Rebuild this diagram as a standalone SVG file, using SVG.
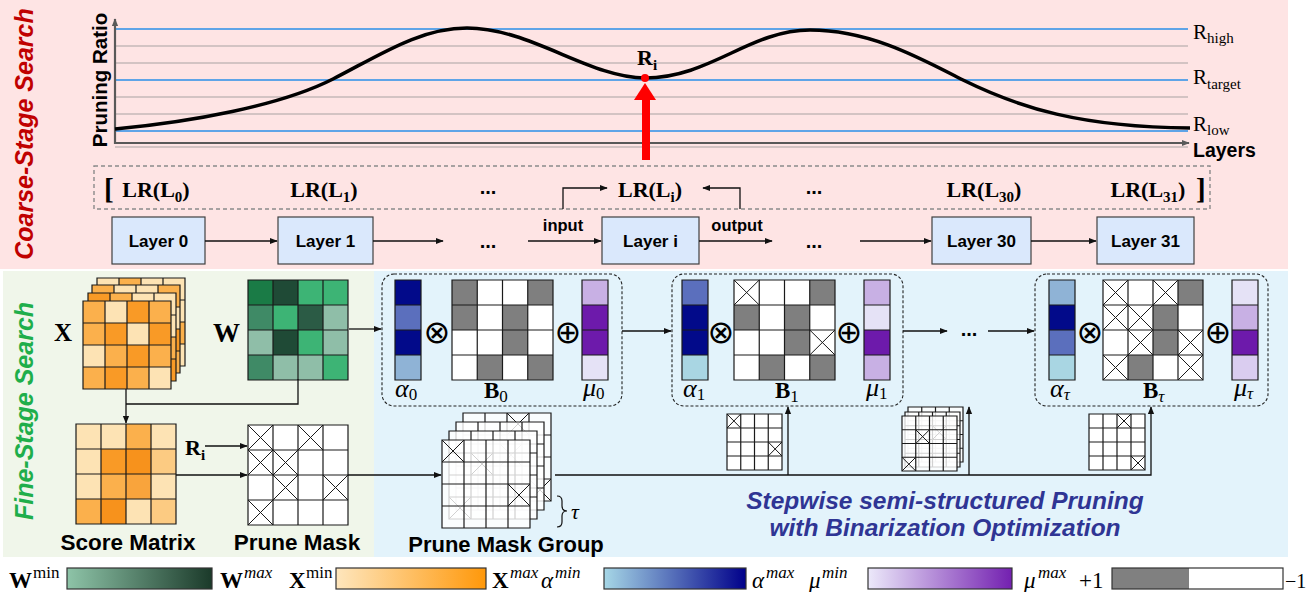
<svg xmlns="http://www.w3.org/2000/svg" width="1307" height="592" viewBox="0 0 1307 592">
<defs>
<style>
.sans{font-family:"Liberation Sans",Arial,sans-serif;font-weight:bold}
.ser{font-family:"Liberation Serif","Times New Roman",serif}
.sym{font-family:"DejaVu Sans",sans-serif}
.b{font-weight:bold}
.i{font-style:italic}
.gl{fill:none;stroke:#1a1a1a;stroke-width:1.2;vector-effect:non-scaling-stroke}
.xl{fill:none;stroke:#1a1a1a;stroke-width:1;vector-effect:non-scaling-stroke}
.con{fill:none;stroke:#111;stroke-width:1.3}
.lay{fill:#dae8fc;stroke:#404040;stroke-width:1.2}
.blue{stroke:#2b8fe8;stroke-width:1.6;fill:none}
.grey{stroke:#c5b8b8;stroke-width:1.5;fill:none}
.dbox{fill:none;stroke:#222;stroke-width:1.1;stroke-dasharray:3 2}
.o1{fill:#fde3b4}.o2{fill:#fccb82}.o3{fill:#fbb04c}.o3b{fill:#f9a43c}.o4{fill:#f99a26}.o5{fill:#f7921c}
.g1{fill:#1a7b46}.g2{fill:#1f4a36}.g3{fill:#3db475}.g4{fill:#3f8a66}.g5{fill:#8fbea8}.g6{fill:#2b5b45}
.gr{fill:#7f7f7f}.wh{fill:#fff}.wt{fill:#fff;fill-opacity:0.8}
.nv{fill:#020a8a}.am{fill:#5b6fbd}.al{fill:#8fb3d6}.ac{fill:#a9d6e3}
.ml{fill:#c8b0e4}.md{fill:#6d1aab}.mp{fill:#e5e2f6}.mq{fill:#dacdf0}
.lbl{font-size:17px}
.sup{font-size:17px}
</style>
<marker id="ah" viewBox="0 0 10 10" refX="9" refY="5" markerWidth="8" markerHeight="8" markerUnits="userSpaceOnUse" orient="auto"><path d="M0,1L10,5L0,9z" fill="#111"/></marker>
<marker id="ag" viewBox="0 0 10 10" refX="9" refY="5" markerWidth="8" markerHeight="8" markerUnits="userSpaceOnUse" orient="auto"><path d="M0,1L10,5L0,9z" fill="#595959"/></marker>
<linearGradient id="gW"><stop offset="0" stop-color="#8ec4a8"/><stop offset="1" stop-color="#1b3a2a"/></linearGradient>
<linearGradient id="gX"><stop offset="0" stop-color="#fee6bd"/><stop offset="1" stop-color="#ff980a"/></linearGradient>
<linearGradient id="gA"><stop offset="0" stop-color="#a6d7e6"/><stop offset="1" stop-color="#00008a"/></linearGradient>
<linearGradient id="gM"><stop offset="0" stop-color="#ece9fa"/><stop offset="1" stop-color="#7320b0"/></linearGradient>
</defs>

<!-- backgrounds -->
<rect x="0" y="0" width="1288" height="269" fill="#fee4e4"/>
<rect x="3" y="271" width="371" height="286" fill="#f0f6ea"/>
<rect x="374" y="271" width="914" height="286" fill="#e3f3fb"/>

<!-- side titles -->
<text class="sans i" font-size="25" fill="#c00000" text-anchor="middle" transform="translate(33,134) rotate(-90)">Coarse-Stage Search</text>
<text class="sans i" font-size="25" fill="#1fae4b" text-anchor="middle" transform="translate(33,411) rotate(-90)">Fine-Stage Search</text>

<!-- chart -->
<g id="chart">
<path class="grey" d="M115,46H1188M115,63H1188M115,97H1188M115,114H1188M115,147H1188"/>
<path class="blue" d="M115,29H1188M115,80H1188M115,131H1188"/>
<path d="M115,144V19" stroke="#595959" stroke-width="2.2" fill="none" marker-end="url(#ag)"/>
<path d="M114,143H1189" stroke="#595959" stroke-width="2.2" fill="none" marker-end="url(#ag)"/>
<path d="M115,129 C190,122 280,106 333,79 C380,55 420,28 467,28 C530,28 590,78 645,78 C710,78 750,30 810,30 C870,30 920,58 963,80 C1020,108 1080,127 1190,128" fill="none" stroke="#000" stroke-width="3.5"/>
<circle cx="645" cy="78" r="4" fill="#f00"/>
<text class="sans" font-size="20.5" text-anchor="middle" transform="translate(107,80) rotate(-90)">Pruning Ratio</text>
<text class="ser b" x="637" y="65" font-size="22">R<tspan font-size="15" dy="5">i</tspan></text>
<text class="ser" x="1193" y="39" font-size="21">R<tspan font-size="15" dy="4">high</tspan></text>
<text class="ser" x="1193" y="84" font-size="21">R<tspan font-size="15" dy="5">target</tspan></text>
<text class="ser" x="1193" y="131" font-size="21">R<tspan font-size="15" dy="4">low</tspan></text>
<text class="sans" x="1193" y="157" font-size="19.5">Layers</text>
</g>

<!-- LR list -->
<g id="lr-list">
<rect x="94" y="166" width="1116" height="43" fill="none" stroke="#8a8a8a" stroke-width="1.4" stroke-dasharray="4 3"/>
<text class="ser b" x="104" y="199" font-size="29">[</text>
<text class="ser b" x="1196" y="199" font-size="29">]</text>
<g class="ser b" font-size="22" text-anchor="middle">
<text x="156" y="197">LR(L<tspan font-size="15" dy="5">0</tspan><tspan dy="-5">)</tspan></text>
<text x="324" y="197">LR(L<tspan font-size="15" dy="5">1</tspan><tspan dy="-5">)</tspan></text>
<text x="650" y="197">LR(L<tspan font-size="15" dy="5">i</tspan><tspan dy="-5">)</tspan></text>
<text x="984" y="197">LR(L<tspan font-size="15" dy="5">30</tspan><tspan dy="-5">)</tspan></text>
<text x="1148" y="197">LR(L<tspan font-size="15" dy="5">31</tspan><tspan dy="-5">)</tspan></text>
</g>
<g class="sans" font-size="20" text-anchor="middle">
<text x="488" y="194">...</text>
<text x="814" y="194">...</text>
</g>
</g>

<!-- layers -->
<g id="layer0"><rect class="lay" x="112" y="217" width="93" height="47"/><text class="sans lbl" x="158.5" y="247" text-anchor="middle">Layer 0</text></g>
<g id="layer1"><rect class="lay" x="278" y="217" width="95" height="47"/><text class="sans lbl" x="325.5" y="247" text-anchor="middle">Layer 1</text></g>
<g id="layeri"><rect class="lay" x="602" y="217" width="97" height="47"/><text class="sans lbl" x="650.5" y="247" text-anchor="middle">Layer i</text></g>
<g id="layer30"><rect class="lay" x="932" y="217" width="99" height="47"/><text class="sans lbl" x="981.5" y="247" text-anchor="middle">Layer 30</text></g>
<g id="layer31"><rect class="lay" x="1097" y="217" width="97" height="47"/><text class="sans lbl" x="1145.5" y="247" text-anchor="middle">Layer 31</text></g>
<g class="sans" font-size="20" text-anchor="middle">
<text x="488" y="248">...</text>
<text x="814" y="248">...</text>
</g>
<text class="sans" x="563" y="231" font-size="16.5" text-anchor="middle">input</text>
<text class="sans" x="737" y="231" font-size="16.5" text-anchor="middle">output</text>

<!-- X stack -->
<g id="x-matrix">
<g transform="translate(97,278) scale(22)"><rect class="o1" width="4" height="4"/><path class="o3" d="M1,0h1v1h-1zM2,1h1v1h-1zM0,2h1v1h-1zM3,2h1v1h-1zM1,3h1v1h-1z"/><path class="o4" d="M0,1h1v1h-1zM1,2h1v1h-1zM2,3h1v1h-1z"/><path class="gl" d="M0,0H4V4H0ZM1,0V4M2,0V4M3,0V4M0,1H4M0,2H4M0,3H4"/></g>
<g transform="translate(92,285) scale(22)"><rect class="o1" width="4" height="4"/><path class="o3" d="M0,0h1v1h-1zM3,0h1v1h-1zM1,1h1v1h-1zM2,2h1v1h-1zM3,3h1v1h-1z"/><path class="o4" d="M2,1h1v1h-1zM0,2h1v1h-1zM3,2h1v1h-1zM1,3h1v1h-1z"/><path class="gl" d="M0,0H4V4H0ZM1,0V4M2,0V4M3,0V4M0,1H4M0,2H4M0,3H4"/></g>
<g transform="translate(88,293) scale(22)"><rect class="o1" width="4" height="4"/><path class="o3" d="M1,0h1v1h-1zM2,1h1v1h-1zM0,2h1v1h-1zM3,2h1v1h-1zM1,3h1v1h-1z"/><path class="o4" d="M0,0h1v1h-1zM1,1h1v1h-1zM2,2h1v1h-1zM0,3h1v1h-1zM3,3h1v1h-1z"/><path class="gl" d="M0,0H4V4H0ZM1,0V4M2,0V4M3,0V4M0,1H4M0,2H4M0,3H4"/></g>
<g transform="translate(83,301) scale(22)"><rect class="o3" width="4" height="4"/><path class="o1" d="M1,0h1v1h-1zM2,1h1v1h-1zM0,2h1v1h-1zM3,3h1v1h-1z"/><path class="o4" d="M2,0h1v1h-1zM1,1h1v1h-1zM3,1h1v1h-1zM2,2h1v1h-1zM1,3h1v1h-1z"/><path class="gl" d="M0,0H4V4H0ZM1,0V4M2,0V4M3,0V4M0,1H4M0,2H4M0,3H4"/></g>
<text class="ser b" x="54" y="341" font-size="25">X</text>
</g>

<!-- W -->
<g id="w-matrix">
<g transform="translate(248,280) scale(25)"><rect class="g3" width="4" height="4"/><path class="g1" d="M0,0h1v1h-1z"/><path class="g2" d="M1,0h1v1h-1zM1,2h1v1h-1z"/><path class="g4" d="M0,1h1v1h-1zM0,3h1v1h-1z"/><path class="g6" d="M2,1h1v1h-1z"/><path class="g5" d="M3,1h1v1h-1zM0,2h1v1h-1zM3,2h1v1h-1zM1,3h1v1h-1zM2,3h1v1h-1z"/><path class="gl" d="M0,0H4V4H0ZM1,0V4M2,0V4M3,0V4M0,1H4M0,2H4M0,3H4"/></g>
<text class="ser b" x="213" y="342" font-size="27">W</text>
</g>

<!-- Score matrix -->
<g id="score-matrix">
<g transform="translate(76,424) scale(25)"><rect class="o1" width="4" height="4"/><path class="o3" d="M2,0h1v1h-1zM1,2h1v1h-1zM0,3h1v1h-1z"/><path class="o3b" d="M2,2h1v1h-1z"/><path class="o4" d="M1,1h1v1h-1z"/><path class="o5" d="M2,1h1v1h-1zM1,3h1v1h-1z"/><path class="o2" d="M3,1h1v1h-1zM3,3h1v1h-1z"/><path class="gl" d="M0,0H4V4H0ZM1,0V4M2,0V4M3,0V4M0,1H4M0,2H4M0,3H4"/></g>
<text class="sans" x="128" y="550" font-size="22.5" text-anchor="middle">Score Matrix</text>
<text class="ser b" x="185" y="455" font-size="22">R<tspan font-size="15" dy="5">i</tspan></text>
</g>

<!-- Prune mask -->
<g id="prune-mask">
<g transform="translate(248,425) scale(25)"><rect class="wh" width="4" height="4"/><path class="xl" d="M0,0l1,1m0,-1l-1,1M2,0l1,1m0,-1l-1,1M0,1l1,1m0,-1l-1,1M1,1l1,1m0,-1l-1,1M1,2l1,1m0,-1l-1,1M3,2l1,1m0,-1l-1,1M0,3l1,1m0,-1l-1,1"/><path class="gl" d="M0,0H4V4H0ZM1,0V4M2,0V4M3,0V4M0,1H4M0,2H4M0,3H4"/></g>
<text class="sans" x="297" y="550" font-size="22.5" text-anchor="middle">Prune Mask</text>
</g>

<!-- Prune mask group -->
<g id="prune-mask-group">
<g transform="translate(463,413) scale(22)"><rect class="wt" width="4" height="4"/><path class="xl" d="M2,0l1,1m0,-1l-1,1M3,3l1,1m0,-1l-1,1"/><path class="gl" d="M0,0H4V4H0ZM1,0V4M2,0V4M3,0V4M0,1H4M0,2H4M0,3H4"/></g>
<g transform="translate(456,422) scale(22)"><rect class="wt" width="4" height="4"/><path class="xl" d="M2,1l1,1m0,-1l-1,1"/><path class="gl" d="M0,0H4V4H0ZM1,0V4M2,0V4M3,0V4M0,1H4M0,2H4M0,3H4"/></g>
<g transform="translate(449,431) scale(22)"><rect class="wt" width="4" height="4"/><path class="xl" d="M1,1l1,1m0,-1l-1,1M0,3l1,1m0,-1l-1,1"/><path class="gl" d="M0,0H4V4H0ZM1,0V4M2,0V4M3,0V4M0,1H4M0,2H4M0,3H4"/></g>
<g transform="translate(442,440) scale(22)"><rect class="wt" width="4" height="4"/><path class="xl" d="M0,0l1,1m0,-1l-1,1M3,2l1,1m0,-1l-1,1"/><path class="gl" d="M0,0H4V4H0ZM1,0V4M2,0V4M3,0V4M0,1H4M0,2H4M0,3H4"/></g>
<path d="M557,496Q562,496 562,501V506Q562,511 567,511Q562,511 562,516V522Q562,527 557,527" fill="none" stroke="#111" stroke-width="1.2"/>
<text class="ser i" x="571" y="519" font-size="22">τ</text>
<text class="sans" x="506" y="552" font-size="22" text-anchor="middle">Prune Mask Group</text>
</g>

<!-- step 0 -->
<g id="step0">
<rect class="dbox" x="382" y="274" width="240" height="132" rx="12"/>
<g transform="translate(395,280) scale(26,25)"><rect class="nv" y="0" width="1" height="1"/><rect class="am" y="1" width="1" height="1"/><rect class="nv" y="2" width="1" height="1"/><rect class="al" y="3" width="1" height="1"/><path class="gl" d="M0,0H1V4H0ZM0,1H1M0,2H1M0,3H1"/></g>
<g transform="translate(452,280) scale(25.25,25)"><rect class="wh" width="4" height="4"/><path class="gr" d="M0,0h1v1h-1zM3,0h1v1h-1zM0,1h1v1h-1zM2,1h1v1h-1zM2,2h1v1h-1zM1,3h1v1h-1zM3,3h1v1h-1z"/><path class="gl" d="M0,0H4V4H0ZM1,0V4M2,0V4M3,0V4M0,1H4M0,2H4M0,3H4"/></g>
<g transform="translate(582,280) scale(26,25)"><rect class="ml" y="0" width="1" height="1"/><rect class="md" y="1" width="1" height="1"/><rect class="md" y="2" width="1" height="1"/><rect class="mp" y="3" width="1" height="1"/><path class="gl" d="M0,0H1V4H0ZM0,1H1M0,2H1M0,3H1"/></g>
<text class="sym" x="437" y="343" font-size="32" text-anchor="middle">⊗</text>
<text class="sym" x="568" y="343" font-size="32" text-anchor="middle">⊕</text>
<text class="ser i" x="395" y="397" font-size="26">α<tspan font-size="17" font-style="normal" dy="3">0</tspan></text>
<text class="ser b" x="484" y="398" font-size="23">B<tspan font-size="17" font-weight="normal" dy="4">0</tspan></text>
<text class="ser i" x="583" y="396" font-size="26">μ<tspan font-size="17" font-style="normal" dy="3">0</tspan></text>
</g>

<!-- step 1 -->
<g id="step1">
<rect class="dbox" x="672" y="274" width="231" height="132" rx="12"/>
<g transform="translate(682,280) scale(26,25)"><rect class="am" y="0" width="1" height="1"/><rect class="nv" y="1" width="1" height="1"/><rect class="nv" y="2" width="1" height="1"/><rect class="ac" y="3" width="1" height="1"/><path class="gl" d="M0,0H1V4H0ZM0,1H1M0,2H1M0,3H1"/></g>
<g transform="translate(734,280) scale(25.25,25)"><rect class="wh" width="4" height="4"/><path class="gr" d="M3,0h1v1h-1zM0,1h1v1h-1zM2,1h1v1h-1zM2,2h1v1h-1zM1,3h1v1h-1zM3,3h1v1h-1z"/><path class="xl" d="M0,0l1,1m0,-1l-1,1M3,2l1,1m0,-1l-1,1"/><path class="gl" d="M0,0H4V4H0ZM1,0V4M2,0V4M3,0V4M0,1H4M0,2H4M0,3H4"/></g>
<g transform="translate(864,280) scale(26,25)"><rect class="ml" y="0" width="1" height="1"/><rect class="mp" y="1" width="1" height="1"/><rect class="md" y="2" width="1" height="1"/><rect class="ml" y="3" width="1" height="1"/><path class="gl" d="M0,0H1V4H0ZM0,1H1M0,2H1M0,3H1"/></g>
<text class="sym" x="721" y="343" font-size="32" text-anchor="middle">⊗</text>
<text class="sym" x="849" y="343" font-size="32" text-anchor="middle">⊕</text>
<text class="ser i" x="683" y="397" font-size="26">α<tspan font-size="17" font-style="normal" dy="3">1</tspan></text>
<text class="ser b" x="775" y="398" font-size="23">B<tspan font-size="17" font-weight="normal" dy="4">1</tspan></text>
<text class="ser i" x="866" y="396" font-size="26">μ<tspan font-size="17" font-style="normal" dy="3">1</tspan></text>
</g>
<text class="sans" x="969" y="336" font-size="20" text-anchor="middle">...</text>

<!-- step tau -->
<g id="step-tau">
<rect class="dbox" x="1035" y="274" width="233" height="132" rx="12"/>
<g transform="translate(1049,280) scale(26,25)"><rect class="al" y="0" width="1" height="1"/><rect class="nv" y="1" width="1" height="1"/><rect class="am" y="2" width="1" height="1"/><rect class="ac" y="3" width="1" height="1"/><path class="gl" d="M0,0H1V4H0ZM0,1H1M0,2H1M0,3H1"/></g>
<g transform="translate(1103,280) scale(25,25)"><rect class="wh" width="4" height="4"/><path class="gr" d="M3,0h1v1h-1zM2,1h1v1h-1zM2,2h1v1h-1zM1,3h1v1h-1z"/><path class="xl" d="M0,0l1,1m0,-1l-1,1M2,0l1,1m0,-1l-1,1M0,1l1,1m0,-1l-1,1M1,1l1,1m0,-1l-1,1M1,2l1,1m0,-1l-1,1M3,2l1,1m0,-1l-1,1M0,3l1,1m0,-1l-1,1M3,3l1,1m0,-1l-1,1"/><path class="gl" d="M0,0H4V4H0ZM1,0V4M2,0V4M3,0V4M0,1H4M0,2H4M0,3H4"/></g>
<g transform="translate(1232,280) scale(26,25)"><rect class="mp" y="0" width="1" height="1"/><rect class="ml" y="1" width="1" height="1"/><rect class="md" y="2" width="1" height="1"/><rect class="mq" y="3" width="1" height="1"/><path class="gl" d="M0,0H1V4H0ZM0,1H1M0,2H1M0,3H1"/></g>
<text class="sym" x="1090" y="343" font-size="32" text-anchor="middle">⊗</text>
<text class="sym" x="1218" y="343" font-size="32" text-anchor="middle">⊕</text>
<text class="ser i" x="1050" y="397" font-size="26">α<tspan font-size="17" dy="3">τ</tspan></text>
<text class="ser b" x="1143" y="398" font-size="23">B<tspan font-size="17" font-style="italic" font-weight="normal" dy="4">τ</tspan></text>
<text class="ser i" x="1234" y="396" font-size="26">μ<tspan font-size="17" dy="3">τ</tspan></text>
</g>

<!-- small masks -->
<g id="mask-step1">
<g transform="translate(727,414) scale(13.75,14)"><rect class="wh" width="4" height="4"/><path class="xl" d="M0,0l1,1m0,-1l-1,1M3,2l1,1m0,-1l-1,1"/><path class="gl" d="M0,0H4V4H0ZM1,0V4M2,0V4M3,0V4M0,1H4M0,2H4M0,3H4"/></g>
</g>
<g id="mask-stack-mid">
<g transform="translate(908,407) scale(13.75,13.75)"><rect class="wt" width="4" height="4"/><path class="gl" d="M0,0H4V4H0ZM1,0V4M2,0V4M3,0V4M0,1H4M0,2H4M0,3H4"/></g>
<g transform="translate(905,412) scale(13.75,13.75)"><rect class="wt" width="4" height="4"/><path class="xl" d="M2,1l1,1m0,-1l-1,1"/><path class="gl" d="M0,0H4V4H0ZM1,0V4M2,0V4M3,0V4M0,1H4M0,2H4M0,3H4"/></g>
<g transform="translate(902,416) scale(13.75,13.75)"><rect class="wt" width="4" height="4"/><path class="xl" d="M1,1l1,1m0,-1l-1,1M0,3l1,1m0,-1l-1,1"/><path class="gl" d="M0,0H4V4H0ZM1,0V4M2,0V4M3,0V4M0,1H4M0,2H4M0,3H4"/></g>
</g>
<g id="mask-step-tau">
<g transform="translate(1089,414) scale(14,14)"><rect class="wh" width="4" height="4"/><path class="xl" d="M2,0l1,1m0,-1l-1,1M3,3l1,1m0,-1l-1,1"/><path class="gl" d="M0,0H4V4H0ZM1,0V4M2,0V4M3,0V4M0,1H4M0,2H4M0,3H4"/></g>
</g>

<!-- caption -->
<g class="sans i" font-size="24.5" fill="#2f3594" text-anchor="middle">
<text x="945" y="509">Stepwise semi-structured Pruning</text>
<text x="945" y="536">with Binarization Optimization</text>
</g>

<!-- connectors -->
<g id="connectors" class="con" marker-end="url(#ah)">
<path d="M205,241H277"/>
<path d="M373,241H443"/>
<path d="M528,241H601"/>
<path d="M699,241H772"/>
<path d="M860,241H931"/>
<path d="M1031,241H1096"/>
<path d="M563,209V188H607"/>
<path d="M740,209V188H703"/>
<path d="M126,389V423"/>
<path d="M349,329H381"/>
<path d="M622,331H671"/>
<path d="M903,331H947"/>
<path d="M988,331H1034"/>
<path d="M205,446H247"/>
<path d="M176,475H247"/>
<path d="M348,475H441"/>
<path d="M555,475H1151V407"/>
<path d="M788,475V407"/>
<path d="M969,475V407"/>
<path d="M298,379V404H126" marker-end="none"/>
</g>
<g id="ri-arrow"><rect x="642" y="98" width="8" height="62" fill="#f00"/><path d="M634,100L645,83L656,100Z" fill="#f00"/></g>

<!-- legend -->
<g id="legend">
<text class="ser b" x="9" y="588" font-size="23">W</text><text class="ser sup" x="33" y="578">min</text>
<rect x="67" y="568" width="145" height="21" fill="url(#gW)" stroke="#333" stroke-width="1.2"/>
<text class="ser b" x="220" y="588" font-size="23">W</text><text class="ser i sup" x="244" y="578">max</text>
<text class="ser b" x="289" y="588" font-size="23">X</text><text class="ser sup" x="306" y="578" font-size="16">min</text>
<rect x="336" y="568" width="150" height="21" fill="url(#gX)" stroke="#333" stroke-width="1.2"/>
<text class="ser b" x="492" y="588" font-size="23">X</text><text class="ser i sup" x="510" y="578">max</text>
<text class="ser i" x="541" y="588" font-size="23">α</text><text class="ser i sup" x="555" y="578">min</text>
<rect x="604" y="568" width="142" height="21" fill="url(#gA)" stroke="#333" stroke-width="1.2"/>
<text class="ser i" x="752" y="588" font-size="23">α</text><text class="ser i sup" x="766" y="578">max</text>
<text class="ser i" x="809" y="588" font-size="23">μ</text><text class="ser i sup" x="822" y="578">min</text>
<rect x="868" y="568" width="144" height="21" fill="url(#gM)" stroke="#333" stroke-width="1.2"/>
<text class="ser i" x="1024" y="588" font-size="23">μ</text><text class="ser i sup" x="1038" y="578">max</text>
<text class="ser" x="1079" y="588" font-size="23">+1</text>
<rect x="1112" y="568" width="77" height="21" fill="#808080"/>
<rect x="1189" y="568" width="94" height="21" fill="#fff"/>
<rect x="1112" y="568" width="171" height="21" fill="none" stroke="#333" stroke-width="1.2"/>
<text class="ser" x="1285" y="588" font-size="20">−1</text>
</g>
</svg>
